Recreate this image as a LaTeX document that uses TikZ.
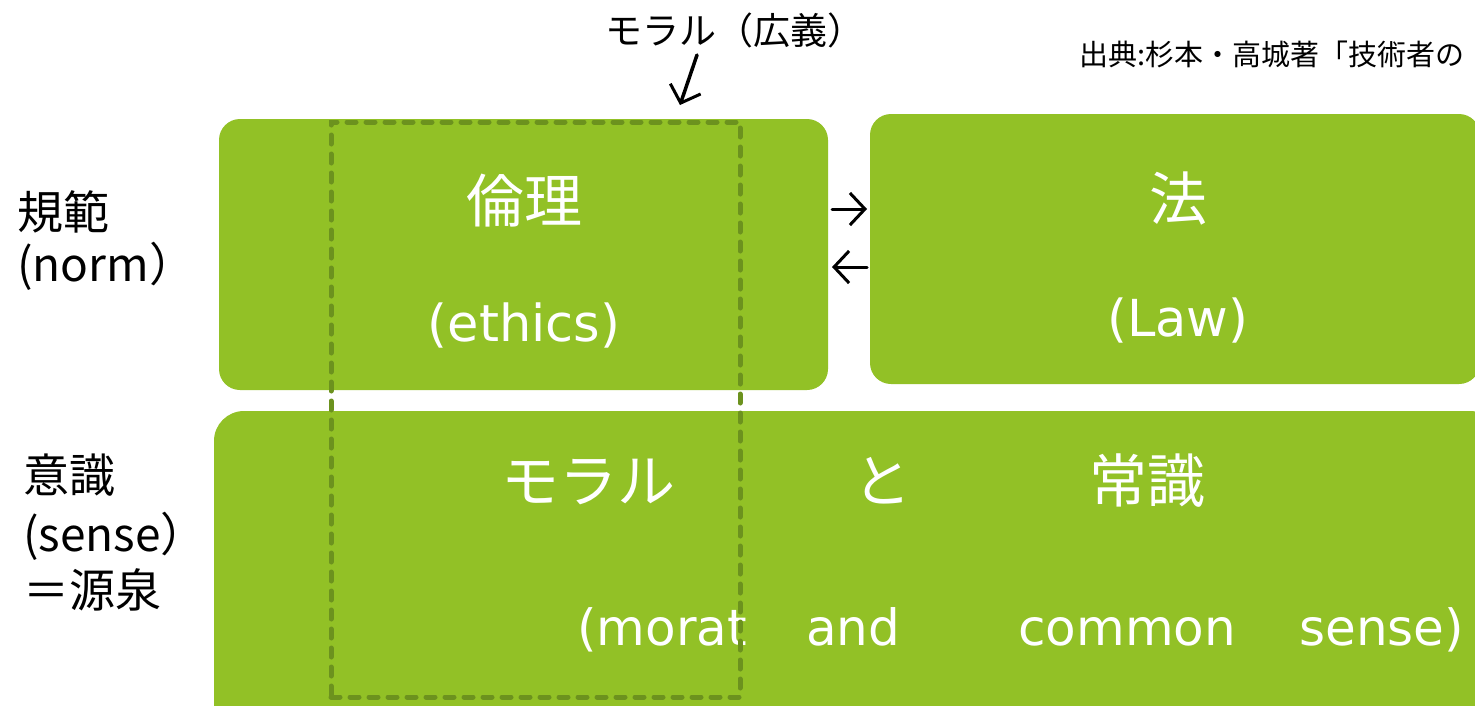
\documentclass[tikz,border=0pt]{standalone}
\usepackage{fontspec}
\setmainfont{DejaVu Sans}
\newfontfamily\jp{Noto Sans CJK JP}
\usetikzlibrary{arrows.meta}
\definecolor{boxgreen}{RGB}{146,193,38}
\definecolor{dashgreen}{RGB}{108,146,30}
\tikzset{
  greenbox/.style={fill=boxgreen, draw=none, inner sep=0pt, outer sep=0pt},
  boxjp/.style={text=white, inner sep=0pt, anchor=base, font=\jp\fontsize{58}{60}\selectfont},
  boxlat/.style={text=white, inner sep=0pt, anchor=base, font=\fontsize{51}{60}\selectfont},
  boxlatw/.style={text=white, inner sep=0pt, anchor=base west, font=\fontsize{50}{60}\selectfont},
  sidelbl/.style={text=black, inner sep=0pt, anchor=base west, font=\jp\fontsize{46}{50}\selectfont},
  dashrect/.style={draw=dashgreen, line width=5pt, dash pattern=on 9pt off 10pt, line cap=round, fill=none, inner sep=0pt, outer sep=0pt},
  blackarrow/.style={draw=black, line width=3pt, line cap=round, -{Straight Barb[length=15pt,width=32pt,line width=3pt]}}
}
\begin{document}
\begin{tikzpicture}[x=1pt,y=-1pt]
\useasboundingbox (0,0) rectangle (1475,705);
\clip (0,0) rectangle (1475,705);
\fill[white] (0,0) rectangle (1475,705);

% boxes
\node[greenbox, rounded corners=21pt, minimum width=609pt, minimum height=271pt] (ethicsbox) at (523.5,254.5) {};
\node[greenbox, rounded corners=21pt, minimum width=610pt, minimum height=270pt] (lawbox) at (1175,249) {};
\node[greenbox, rounded corners=30pt, minimum width=1286pt, minimum height=329pt] (sensebox) at (857,575.5) {};

% box texts
\node[boxjp] (rinri) at (524,222) {倫理};
\node[boxlat] (ethics) at (524,341) {(ethics)};
\node[boxjp] (hou) at (1178,220) {法};
\node[boxlat] (law) at (1178,336) {(Law)};
\node[boxjp] (moral) at (588,502) {モラル};
\node[boxjp] (to) at (882,502) {と};
\node[boxjp] (joshiki) at (1147,502) {常識};
\node[boxlatw] (morat) at (577,645) {(morat};
\node[boxlatw] (and) at (806,645) {and};
\node[boxlatw] (common) at (1018,645) {common};
\node[boxlatw] (sense) at (1299,645) {sense)};

% arrows between boxes
\coordinate (a1s) at (832,209);
\coordinate (a1e) at (867,209);
\coordinate (a2s) at (867,267);
\coordinate (a2e) at (832,267);
\draw[blackarrow] (a1s) -- (a1e);
\draw[blackarrow] (a2s) -- (a2e);

% side labels
\node[sidelbl] (kihan) at (17,229) {規範};
\node[sidelbl] (norm) at (17,281) {(norm）};
\node[sidelbl] (ishiki) at (23,492) {意識};
\node[sidelbl] (sensel) at (23,551) {(sense）};
\node[sidelbl] (gensen) at (23,607) {＝源泉};

% top label and citation
\node[inner sep=0pt, anchor=base, font=\jp\fontsize{37}{40}\selectfont] (toplbl) at (735,44) {モラル（広義）};
\node[inner sep=0pt, anchor=base west, font=\jp\fontsize{29}{30}\selectfont] (cite) at (1079,65) {出典:杉本・高城著「技術者の};

% dashed rectangle
\node[dashrect, minimum width=409pt, minimum height=575pt] (broad) at (535.5,409.5) {};

% arrow to dashed rectangle
\coordinate (tarr) at (697,55);
\coordinate (harr) at (680,105);
\draw[blackarrow, line width=3.5pt] (tarr) -- (harr);
\end{tikzpicture}
\end{document}
